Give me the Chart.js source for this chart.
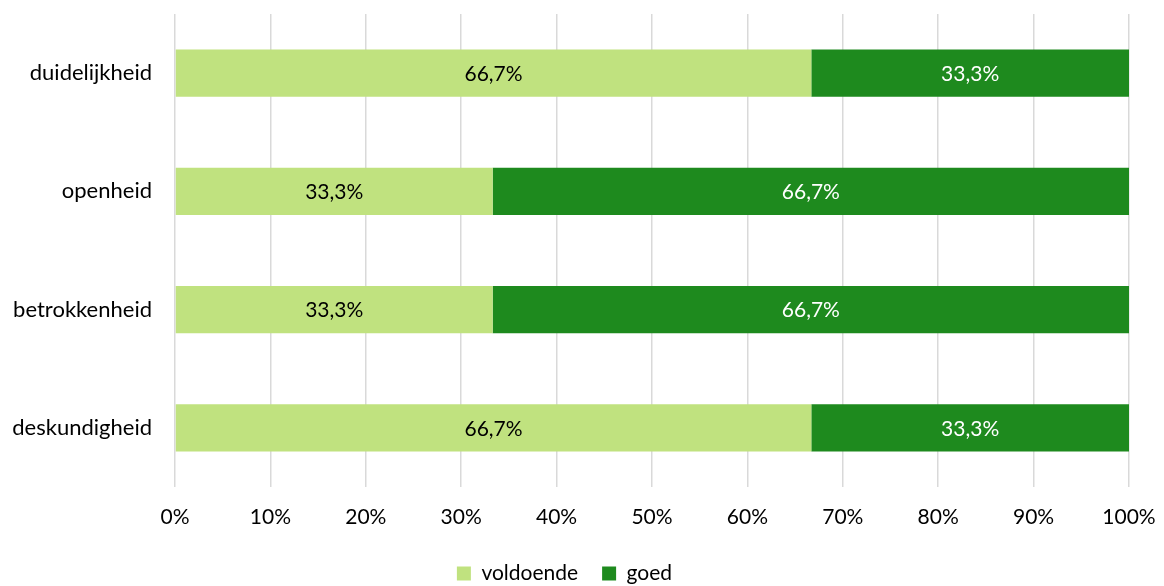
<!DOCTYPE html>
<html>
<head>
<meta charset="utf-8">
<script src="https://cdn.jsdelivr.net/npm/chart.js@4"></script>
<style>
  html, body { margin: 0; padding: 0; background: #fff; }
  #wrap { width: 1164px; height: 586px; }
</style>
</head>
<body>
<div id="wrap"><canvas id="chart" width="1164" height="586"></canvas></div>
<script>
const categories = ["duidelijkheid", "openheid", "betrokkenheid", "deskundigheid"];
const voldoende = [66.7, 33.3, 33.3, 66.7];
const goed = [33.3, 66.7, 66.7, 33.3];
const seriesNames = ["voldoende", "goed"];
const xTicks = [0, 10, 20, 30, 40, 50, 60, 70, 80, 90, 100];

const FONT = "Lato, 'Open Sans', sans-serif";

// draws the percentage inside each bar segment
const barLabels = {
  id: "barLabels",
  afterDatasetsDraw(chart) {
    const ctx = chart.ctx;
    ctx.save();
    ctx.font = "21px " + FONT;
    ctx.textAlign = "center";
    ctx.textBaseline = "middle";
    chart.data.datasets.forEach((ds, i) => {
      const meta = chart.getDatasetMeta(i);
      meta.data.forEach((bar, j) => {
        const v = ds.data[j];
        const cx = (bar.x + bar.base) / 2;
        ctx.fillStyle = i === 0 ? "#000" : "#fff";
        ctx.fillText(v.toFixed(1).replace(".", ",") + "%", cx, bar.y + 1);
      });
    });
    ctx.restore();
  }
};

new Chart(document.getElementById("chart"), {
  type: "bar",
  data: {
    labels: categories,
    datasets: [
      { label: seriesNames[0], data: voldoende, backgroundColor: "#c0e27f", barPercentage: 0.8, categoryPercentage: 0.5 },
      { label: seriesNames[1], data: goed, backgroundColor: "#1e8a1e", barPercentage: 0.8, categoryPercentage: 0.5 }
    ]
  },
  options: {
    indexAxis: "y",
    responsive: false,
    animation: false,
    layout: { padding: { top: 14, right: 35, bottom: -8, left: 0 } },
    plugins: {
      legend: {
        position: "bottom",
        labels: {
          font: { size: 21, family: FONT },
          color: "#000",
          boxWidth: 14,
          boxHeight: 14,
          padding: 24
        }
      },
      tooltip: { enabled: false }
    },
    scales: {
      x: {
        stacked: true,
        min: 0,
        max: 100,
        afterBuildTicks: s => { s.ticks = xTicks.map(v => ({ value: v })); },
        afterFit: s => { s.height = 52; s.paddingLeft = 0; s.paddingRight = 0; },
        ticks: {
          callback: v => v + "%",
          font: { size: 21, family: FONT },
          color: "#000",
          padding: 18,
          maxRotation: 0
        },
        grid: { color: "#d9d9d9", lineWidth: 1.5, drawTicks: false },
        border: { display: false }
      },
      y: {
        stacked: true,
        afterFit: s => { s.width = 175; s.paddingTop = 0; s.paddingBottom = 0; },
        ticks: {
          font: { size: 22, family: FONT },
          color: "#000",
          padding: 15
        },
        grid: { display: false },
        border: { display: false }
      }
    }
  },
  plugins: [barLabels]
});
</script>
</body>
</html>
